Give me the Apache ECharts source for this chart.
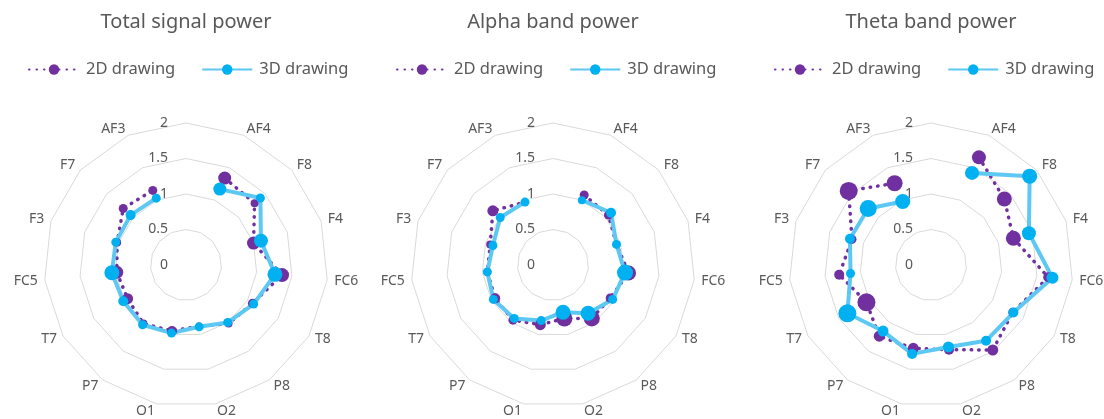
<!DOCTYPE html>
<html>
<head>
<meta charset="utf-8">
<script src="https://cdn.jsdelivr.net/npm/echarts@6/dist/echarts.min.js"></script>
<style>
html, body { margin: 0; padding: 0; background: #fff; }
#chart { width: 1104px; height: 419px; }
</style>
</head>
<body>
<div id="chart"></div>
<script>
// electrode channels, clockwise from the top (top spoke carries no channel)
const channels = ['', 'AF4', 'F8', 'F4', 'FC6', 'T8', 'P8', 'O2', 'O1', 'P7', 'T7', 'FC5', 'F3', 'F7', 'AF3'];
const titles = ['Total signal power', 'Alpha band power', 'Theta band power'];
const seriesNames = ['2D drawing', '3D drawing'];

const total2D = [null, 1.34, 1.30, 1.00, 1.36, 1.08, 1.02, 0.88, 0.95, 1.02, 0.95, 0.98, 1.02, 1.19, 1.15];
const total3D = [null, 1.17, 1.41, 1.11, 1.26, 1.10, 1.00, 0.89, 0.98, 1.04, 1.02, 1.05, 1.04, 1.05, 1.03];
const totalSize2D = [0, 13, 8, 13, 14, 9, 8, 7, 10, 8, 11, 13, 8, 9, 9];
const totalSize3D = [0, 13, 9, 14, 15, 9, 9, 9, 9, 9, 10, 15, 9, 10, 9];

const alpha2D = [null, 1.08, 1.05, 0.94, 1.07, 0.93, 0.93, 0.77, 0.86, 0.96, 0.94, 0.93, 0.93, 1.14, 0.97];
const alpha3D = [null, 1.00, 1.10, 0.94, 1.02, 0.97, 0.84, 0.68, 0.80, 0.93, 0.97, 0.93, 0.89, 1.00, 0.97];
const alphaSize2D = [0, 9, 9, 7, 15, 9, 16, 16, 11, 9, 10, 8, 8, 11, 7];
const alphaSize3D = [0, 8, 10, 9, 16, 9, 15, 15, 9, 9, 9, 9, 9, 9, 9];

const theta2D = [null, 1.66, 1.39, 1.22, 1.66, 1.33, 1.48, 1.22, 1.20, 1.24, 1.05, 1.30, 1.17, 1.56, 1.26];
const theta3D = [null, 1.42, 1.87, 1.45, 1.72, 1.34, 1.32, 1.18, 1.28, 1.15, 1.36, 1.14, 1.20, 1.19, 0.98];
const thetaSize2D = [0, 14, 15, 15, 10, 9, 11, 10, 11, 11, 18, 10, 9, 18, 16];
const thetaSize3D = [0, 14, 15, 14, 12, 10, 10, 11, 10, 11, 18, 9, 10, 17, 15];

const panels = [
    { values: [total2D, total3D], sizes: [totalSize2D, totalSize3D] },
    { values: [alpha2D, alpha3D], sizes: [alphaSize2D, alphaSize3D] },
    { values: [theta2D, theta3D], sizes: [thetaSize2D, thetaSize3D] }
];

const centers = [186, 553, 931];
const legendLeft = [28, 396, 774];
const textColor = '#595959';
const font = 'Noto Sans';

var chart = echarts.init(document.getElementById('chart'));

// radar goes counter-clockwise, so feed it the channels reversed
function makeIndicators() {
    var names = [channels[0]].concat(channels.slice(1).reverse());
    return names.map(function (name, i) {
        var ind = { name: name, min: 0, max: 2 };
        if (i === 0) ind.axisLabel = { show: true };
        return ind;
    });
}

var title = [], legend = [], radar = [], polar = [], angleAxis = [], radiusAxis = [], series = [];

panels.forEach(function (p, i) {
    title.push({
        text: titles[i], left: centers[i], top: 12, textAlign: 'center', padding: 0,
        textStyle: { color: textColor, fontSize: 20, fontWeight: 'normal', fontFamily: font }
    });
    legend.push({
        data: seriesNames, left: legendLeft[i], top: 61, padding: 0,
        itemWidth: 50, itemHeight: 13, itemGap: 26,
        textStyle: { color: textColor, fontSize: 16.5, fontFamily: font, padding: [0, 0, 0, 2] }
    });
    radar.push({
        center: [centers[i], 265], radius: 142, startAngle: 90,
        shape: 'polygon', splitNumber: 4, nameGap: 7,
        indicator: makeIndicators(),
        axisName: { color: textColor, fontSize: 14, fontFamily: font },
        axisLine: { show: false },
        axisTick: { show: false },
        axisLabel: { show: false, color: textColor, fontSize: 14, fontFamily: font, margin: 18 },
        splitLine: { lineStyle: { color: '#d9d9d9', width: 1 } },
        splitArea: { show: false }
    });
    polar.push({ center: [centers[i], 265], radius: 142 });
    angleAxis.push({
        polarIndex: i, type: 'category', data: channels, startAngle: 90,
        clockwise: true, boundaryGap: false, show: false
    });
    radiusAxis.push({ polarIndex: i, type: 'value', min: 0, max: 2, show: false });

    series.push({
        name: seriesNames[0], type: 'line', coordinateSystem: 'polar', polarIndex: i,
        data: p.values[0], symbol: 'circle', showAllSymbol: true,
        symbolSize: function (v, params) { return p.sizes[0][params.dataIndex]; },
        itemStyle: { color: '#7030a0' },
        lineStyle: { color: '#7030a0', width: 3.5, type: [0.5, 7], cap: 'round' }
    });
    series.push({
        name: seriesNames[1], type: 'line', coordinateSystem: 'polar', polarIndex: i,
        data: p.values[1], symbol: 'circle', showAllSymbol: true,
        symbolSize: function (v, params) { return p.sizes[1][params.dataIndex]; },
        itemStyle: { color: '#00b0f0' },
        lineStyle: { color: '#5dc8f2', width: 4 }
    });
});

chart.setOption({
    animation: false,
    title: title,
    legend: legend,
    radar: radar,
    polar: polar,
    angleAxis: angleAxis,
    radiusAxis: radiusAxis,
    series: series
});
</script>
</body>
</html>
